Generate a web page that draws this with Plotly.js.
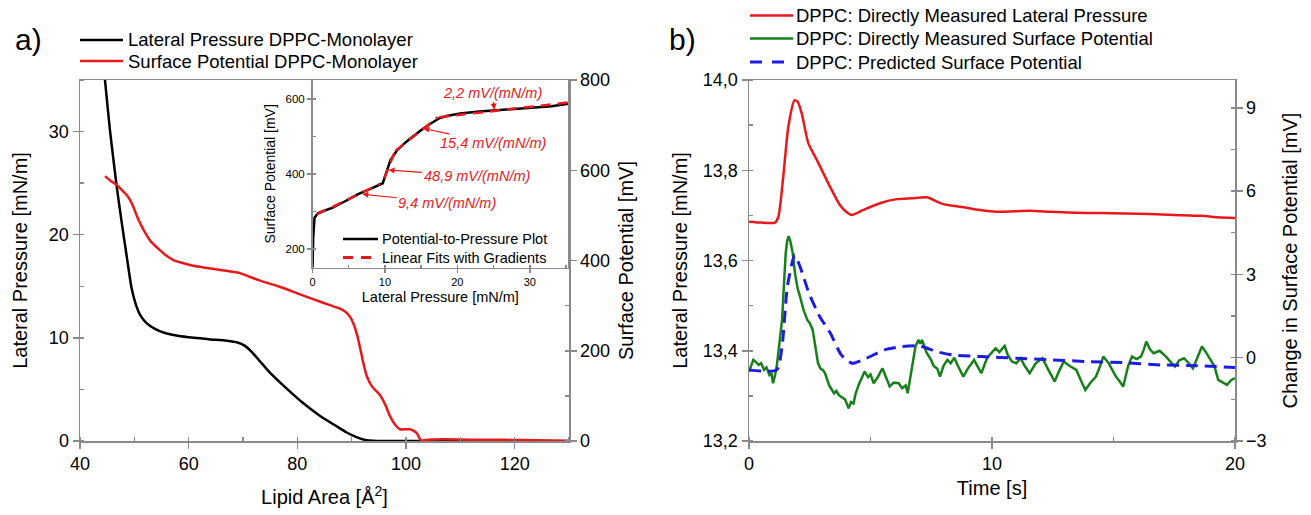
<!DOCTYPE html>
<html><head><meta charset="utf-8">
<script src="https://cdn.plot.ly/plotly-3.0.1.min.js"></script>
<style>html,body{margin:0;padding:0;background:#fff}#chart{width:1311px;height:515px}</style>
</head><body><div id="chart"></div>
<script>
// ---------- Panel a: isotherm ----------
const areaP = [44.4, 44.6, 45.5, 46.75, 47.7, 48.6, 49.5, 50.3, 51.2, 52.3, 53.7, 55.5, 58, 61, 64, 67, 69, 70.3, 71.5, 73, 75, 78, 81, 84, 87, 89, 91, 92.5, 94, 96, 100, 110, 120, 130];
const pressureA = [36, 35, 30.2, 24.7, 21.1, 17.9, 14.8, 13.2, 12.1, 11.4, 10.9, 10.5, 10.2, 10.0, 9.85, 9.72, 9.55, 9.25, 8.7, 7.8, 6.6, 5.1, 3.7, 2.5, 1.5, 0.85, 0.35, 0.1, 0.02, 0, 0, 0, 0, 0];
const areaV = [44.6, 45.5, 46.8, 47.7, 48.6, 49.3, 49.8, 50.7, 51.7, 53, 54.7, 56, 57.2, 58.7, 60.2, 63, 65.8, 68, 69.4, 71, 73, 76.5, 80.5, 83, 86, 87.5, 88.8, 89.7, 90.3, 91, 91.5, 92.2, 92.8, 93.8, 95.2, 96.2, 97.1, 98, 98.9, 100.7, 101.5, 102, 102.5, 102.8, 104, 107, 112, 118, 124, 130];
const potentialA = [587, 578, 567, 556, 545, 532, 519, 492, 468, 443, 423, 410, 401, 395, 390, 384, 379, 375, 372, 365, 356, 343, 325, 314, 301, 295, 287, 275, 261, 235, 209, 170, 143, 120, 102, 80, 54, 36, 26, 26, 22, 17, 6, 1, 3, 4, 3, 2.5, 1.5, 0];
// inset: potential vs pressure
const insetP = [0, 0.1, 0.28, 0.5, 0.74, 1.5, 2.8, 4.5, 6.3, 8, 9.3, 9.7, 10.0, 10.35, 10.75, 11.6, 12.5, 13.5, 15.3, 16.5, 17.5, 18.5, 20.4, 23, 26, 28, 30.6, 33, 35.3];
const insetV = [150, 230, 283, 290, 295, 301, 310, 327, 346, 360, 370, 375, 392, 410, 436, 461, 478, 494, 521, 536, 548, 554, 561, 566, 570, 572, 575, 580, 587];
const fitP = [0.6, 9.3, null, 9.9, 11.3, null, 11.5, 17.3, null, 17.5, 35.3];
const fitV = [292, 373, null, 388, 456, null, 462, 551, null, 551, 590];
const gradLabels = ['2,2 mV/(mN/m)', '15,4 mV/(mN/m)', '48,9 mV/(mN/m)', '9,4 mV/(mN/m)'];
const gradP = [25.1, 15.3, 10.5, 6.87];
const gradV = [571, 521, 410, 346];

// ---------- Panel b: time series ----------
const timeP = [0, 0.5, 1.07, 1.21, 1.41, 1.62, 1.87, 2.0, 2.17, 2.44, 2.79, 3.33, 3.74, 4.0, 4.23, 4.7, 5.39, 6.08, 6.7, 7.31, 8.0, 8.83, 9.5, 10.2, 11.56, 12.4, 13.4, 14.4, 15.5, 16.5, 17.5, 18.6, 19.3, 20];
const pressureB = [13.686, 13.684, 13.684, 13.697, 13.786, 13.897, 13.955, 13.952, 13.926, 13.86, 13.823, 13.764, 13.723, 13.708, 13.701, 13.712, 13.727, 13.736, 13.738, 13.74, 13.725, 13.718, 13.712, 13.708, 13.71, 13.708, 13.706, 13.705, 13.704, 13.703, 13.701, 13.699, 13.696, 13.694];
const timeG = [0, 0.1, 0.18, 0.28, 0.40, 0.5, 0.62, 0.72, 0.84, 0.92, 0.99, 1.08, 1.14, 1.25, 1.36, 1.45, 1.51, 1.57, 1.63, 1.70, 1.80, 1.9, 2.0, 2.1, 2.25, 2.4, 2.5, 2.62, 2.72, 2.84, 2.95, 3.05, 3.13, 3.3, 3.5, 3.6, 3.7, 3.8, 3.95, 4.1, 4.2, 4.3, 4.39, 4.55, 4.76, 4.9, 5.0, 5.13, 5.3, 5.49, 5.6, 5.79, 5.95, 6.16, 6.3, 6.45, 6.53, 6.7, 6.85, 6.97, 7.05, 7.12, 7.3, 7.49, 7.6, 7.75, 7.86, 8.0, 8.16, 8.3, 8.45, 8.6, 8.82, 9.0, 9.26, 9.4, 9.56, 9.8, 10.0, 10.15, 10.3, 10.52, 10.65, 10.82, 11.0, 11.18, 11.35, 11.55, 11.8, 12.07, 12.3, 12.58, 12.75, 12.95, 13.2, 13.47, 13.65, 13.84, 14.05, 14.28, 14.45, 14.58, 14.8, 15.1, 15.25, 15.4, 15.6, 15.76, 15.95, 16.13, 16.25, 16.35, 16.5, 16.65, 16.9, 17.16, 17.35, 17.53, 17.7, 17.9, 18.1, 18.27, 18.45, 18.64, 18.8, 19.01, 19.15, 19.31, 19.5, 19.67, 19.85, 20];
const measuredV = [-0.50, -0.3, -0.08, -0.15, -0.26, -0.2, -0.44, -0.35, -0.62, -0.55, -0.92, -0.6, -0.32, 0.5, 1.36, 2.8, 3.76, 4.2, 4.38, 4.2, 3.76, 3.0, 2.5, 2.2, 1.7, 1.36, 1.25, 1.0, 0.4, -0.2, -0.4, -0.45, -0.56, -1.0, -1.28, -1.2, -1.35, -1.4, -1.5, -1.82, -1.6, -1.65, -1.28, -0.9, -0.5, -0.7, -0.6, -0.92, -0.7, -0.38, -0.6, -1.04, -0.9, -0.92, -1.1, -1.0, -1.28, -0.3, 0.4, 0.64, 0.5, 0.64, 0.2, -0.08, -0.3, -0.4, -0.68, -0.3, -0.08, -0.2, 0, -0.3, -0.68, -0.4, -0.08, -0.3, -0.56, 0.0, 0.2, 0.34, 0.2, 0.42, 0.1, -0.14, -0.2, -0.02, -0.3, -0.56, -0.2, -0.02, -0.4, -0.86, -0.5, -0.14, -0.3, -0.44, -0.8, -1.16, -0.9, -0.68, -0.3, 0.04, -0.2, -0.68, -0.85, -1.04, -0.3, 0.04, -0.05, 0.04, 0.3, 0.58, 0.3, 0.16, 0.25, 0.04, -0.15, -0.32, -0.1, -0.02, -0.2, -0.38, 0.0, 0.4, 0.2, -0.08, -0.3, -0.80, -0.9, -0.98, -0.8, -0.74];
const timeB = [0, 1.14, 1.36, 1.58, 1.88, 2.1, 2.47, 2.91, 3.35, 3.8, 4.24, 4.83, 5.57, 6.31, 7.05, 7.71, 8.37, 9.56, 11.03, 12.5, 13.99, 15.46, 16.94, 18.42, 20];
const predictedV = [-0.44, -0.44, 0.40, 2.56, 3.70, 3.28, 2.32, 1.48, 0.88, 0.10, -0.20, -0.02, 0.28, 0.40, 0.42, 0.22, 0.10, 0.04, -0.02, -0.08, -0.14, -0.18, -0.26, -0.29, -0.35];

const legendA = ['Lateral Pressure DPPC-Monolayer', 'Surface Potential DPPC-Monolayer'];
const legendInset = ['Potential-to-Pressure Plot', 'Linear Fits with Gradients'];
const legendB = ['DPPC: Directly Measured Lateral Pressure', 'DPPC: Directly Measured Surface Potential', 'DPPC: Predicted Surface Potential'];

// ---------- styling ----------
const W = 1311, H = 515;
const px = x => x / W, py = y => 1 - y / H;
const FONT = 'Liberation Sans, Arial, sans-serif';
const RED = '#e8191c', GREEN = '#17801a', BLUE = '#1d1de0', GREY = '#8a8a8a';

function axis(o, minor) {
  const base = {
    showline: true, linecolor: GREY, linewidth: 1.5,
    ticks: 'outside', ticklen: 6, tickwidth: 1.5, tickcolor: GREY,
    showgrid: false, zeroline: false, automargin: false,
    tickfont: {size: 18, color: '#000', family: FONT},
    minor: Object.assign({ticks: 'inside', ticklen: 4, tickwidth: 1.5, tickcolor: GREY, showgrid: false}, minor || {})
  };
  return Object.assign(base, o);
}
const titleFont = {size: 20, color: '#000', family: FONT};

const traces = [
  {x: areaP, y: pressureA, xaxis: 'x', yaxis: 'y', mode: 'lines', line: {color: '#000', width: 2.5, shape: 'spline', smoothing: 0.6}, name: legendA[0]},
  {x: areaV, y: potentialA, xaxis: 'x', yaxis: 'y2', mode: 'lines', line: {color: RED, width: 2.5, shape: 'spline', smoothing: 0.5}, name: legendA[1]},
  {x: insetP, y: insetV, xaxis: 'x2', yaxis: 'y3', mode: 'lines', line: {color: '#000', width: 2.5}, name: legendInset[0]},
  {x: fitP, y: fitV, xaxis: 'x2', yaxis: 'y3', mode: 'lines', line: {color: RED, width: 2.5, dash: '10px,7px'}, name: legendInset[1]},
  {x: timeP, y: pressureB, xaxis: 'x3', yaxis: 'y4', mode: 'lines', line: {color: RED, width: 2.5, shape: 'spline', smoothing: 0.6}, name: legendB[0]},
  {x: timeG, y: measuredV, xaxis: 'x3', yaxis: 'y5', mode: 'lines', line: {color: GREEN, width: 2.5}, name: legendB[1]},
  {x: timeB, y: predictedV, xaxis: 'x3', yaxis: 'y5', mode: 'lines', line: {color: BLUE, width: 3, dash: '12px,7px', shape: 'spline', smoothing: 0.6}, name: legendB[2]}
];

const domY = [py(441), py(80)];
const layout = {
  width: W, height: H, showlegend: false,
  margin: {l: 0, r: 0, t: 0, b: 0, pad: 0},
  paper_bgcolor: '#fff', plot_bgcolor: '#fff',
  separators: ',.',
  font: {family: FONT, color: '#000'},
  xaxis: axis({domain: [px(80), px(569)], range: [40, 130], dtick: 20, tick0: 0, anchor: 'y', mirror: true,
    title: {text: 'Lipid Area [Å<sup>2</sup>]', font: titleFont, standoff: 17}}, {dtick: 10}),
  yaxis: axis({domain: domY, range: [0, 35], dtick: 10, tick0: 0, anchor: 'x',
    title: {text: 'Lateral Pressure [mN/m]', font: titleFont, standoff: 16}}, {dtick: 5}),
  yaxis2: axis({overlaying: 'y', side: 'right', anchor: 'x', range: [0, 800], dtick: 200, tick0: 0,
    title: {text: 'Surface Potential [mV]', font: titleFont, standoff: 10}}, {dtick: 100}),
  xaxis2: axis({domain: [px(312.5), px(568.2)], range: [0, 35.3], dtick: 10, tick0: 0, anchor: 'y3', mirror: true,
    ticklen: 4, tickfont: {size: 11, color: '#000', family: FONT},
    title: {text: 'Lateral Pressure [mN/m]', font: {size: 14.5, color: '#000', family: FONT}, standoff: 4}}, {dtick: 5, ticklen: 3}),
  yaxis3: axis({domain: [py(267.7), py(80)], range: [150, 650], dtick: 200, tick0: 0, anchor: 'x2', mirror: true,
    ticklen: 4, tickfont: {size: 11.5, color: '#000', family: FONT},
    title: {text: 'Surface Potential [mV]', font: {size: 14, color: '#000', family: FONT}, standoff: 6}}, {dtick: 100, ticklen: 3}),
  xaxis3: axis({domain: [px(749), px(1235)], range: [0, 20], dtick: 10, tick0: 0, anchor: 'y4', mirror: true,
    title: {text: 'Time [s]', font: titleFont, standoff: 8}}, {dtick: 5}),
  yaxis4: axis({domain: domY, range: [13.2, 14.0], dtick: 0.2, tick0: 13.2, tickformat: '.1f', anchor: 'x3',
    title: {text: 'Lateral Pressure [mN/m]', font: titleFont, standoff: 10}}, {dtick: 0.1, tick0: 13.2}),
  yaxis5: axis({overlaying: 'y4', side: 'right', anchor: 'x3', range: [-3, 10], dtick: 3, tick0: -3,
    title: {text: 'Change in Surface Potential [mV]', font: titleFont, standoff: 17}}, {dtick: 1.5, tick0: -3}),
  shapes: [],
  annotations: []
};

// panel labels
layout.annotations.push({xref: 'paper', yref: 'paper', x: px(28), y: py(40), text: 'a)', showarrow: false, font: {size: 30, family: FONT, color: '#000'}, xanchor: 'center', yanchor: 'middle'});
layout.annotations.push({xref: 'paper', yref: 'paper', x: px(682), y: py(40), text: 'b)', showarrow: false, font: {size: 30, family: FONT, color: '#000'}, xanchor: 'center', yanchor: 'middle'});

// legend helper (manual legend rows)
function legendRow(x0, x1, y, color, width, dash, label, tx, size) {
  layout.shapes.push({type: 'line', xref: 'paper', yref: 'paper', x0: px(x0), x1: px(x1), y0: py(y), y1: py(y),
    line: {color: color, width: width, dash: dash || 'solid'}});
  layout.annotations.push({xref: 'paper', yref: 'paper', x: px(tx), y: py(y), text: label, showarrow: false,
    xanchor: 'left', yanchor: 'middle', font: {size: size, family: FONT, color: '#000'}});
}
legendRow(80, 123, 40, '#000', 2.5, null, legendA[0], 126, 18.5);
legendRow(80, 123, 61, RED, 2.5, null, legendA[1], 126, 18.5);
legendRow(343, 378, 239, '#000', 2.5, null, legendInset[0], 380, 14.5);
legendRow(343, 378, 257.5, RED, 3, '10px,8px', legendInset[1], 380, 14.5);
legendRow(750, 793, 15.5, RED, 2.5, null, legendB[0], 794, 18.5);
legendRow(750, 793, 38.5, GREEN, 2.5, null, legendB[1], 794, 18.5);
legendRow(750, 793, 62, BLUE, 3, '12px,10px', legendB[2], 794, 18.5);

// gradient annotations in inset
const gradOffsets = [[-2, -17], [70, 15], [88, 6], [85, 9]];
gradLabels.forEach((t, i) => {
  layout.annotations.push({xref: 'x2', yref: 'y3', x: gradP[i], y: gradV[i], text: '<i>' + t + '</i>',
    showarrow: true, ax: gradOffsets[i][0], ay: gradOffsets[i][1], arrowcolor: RED, arrowwidth: 1.2, arrowhead: 2, arrowsize: 1,
    font: {size: 14.5, family: FONT, color: RED}});
});

Plotly.newPlot('chart', traces, layout, {staticPlot: true, displayModeBar: false});
</script></body></html>
